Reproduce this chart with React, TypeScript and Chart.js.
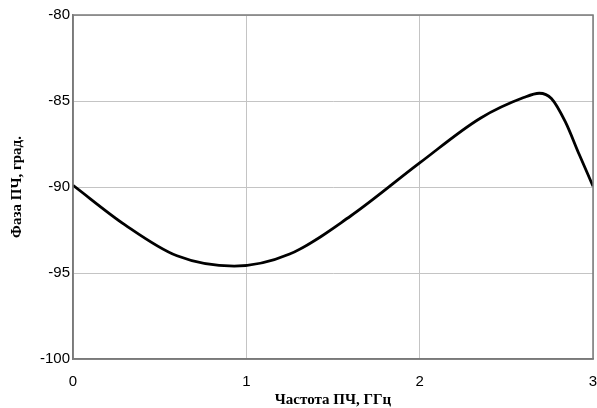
import React, { useEffect, useRef } from "react";
import { Chart, registerables } from "chart.js";

Chart.register(...registerables);

const freq = [0, 0.3, 0.6, 0.93, 1.25, 1.6, 2.0, 2.35, 2.6, 2.69, 2.76, 2.84, 2.92, 3.0];
const phase = [-89.9, -92.2, -94.0, -94.6, -93.9, -91.7, -88.6, -86.0, -84.8, -84.55, -84.85, -86.2, -88.1, -89.95];

const xTitle = "Частота ПЧ, ГГц";
const yTitle = "Фаза ПЧ, град.";

const frame = {
  id: "frame",
  afterDraw(chart: any) {
    const { ctx, chartArea: a } = chart;
    ctx.save();
    ctx.strokeStyle = "#7a7a7a";
    ctx.lineWidth = 1.5;
    ctx.strokeRect(a.left, a.top, a.right - a.left, a.bottom - a.top);
    ctx.restore();
  },
};

export default function App() {
  const ref = useRef<HTMLCanvasElement>(null);
  useEffect(() => {
    document.body.style.margin = "0";
    const chart = new Chart(ref.current!, {
      type: "scatter",
      data: {
        datasets: [
          {
            data: freq.map((x, i) => ({ x, y: phase[i] })),
            showLine: true,
            borderColor: "#000",
            borderWidth: 2.8,
            pointRadius: 0,
            cubicInterpolationMode: "monotone",
          },
        ],
      },
      options: {
        animation: false,
        responsive: false,
        layout: { padding: { top: 15, right: 4, left: 0, bottom: 0 } },
        plugins: { legend: { display: false }, tooltip: { enabled: false } },
        scales: {
          x: {
            type: "linear",
            min: 0,
            max: 3,
            ticks: { stepSize: 1, color: "#000", font: { family: "Liberation Sans", size: 15 }, padding: 14 },
            grid: { color: "#c4c4c4", drawTicks: false },
            border: { color: "#7a7a7a", width: 1.5 },
            title: {
              display: true,
              text: xTitle,
              color: "#000",
              font: { family: "Liberation Serif", size: 15, weight: "bold", lineHeight: 1 },
              padding: { top: 0, bottom: 0 },
            },
            afterFit: (s: any) => { s.height = 49; s.paddingLeft = 0; s.paddingRight = 0; },
          },
          y: {
            min: -100,
            max: -80,
            ticks: { stepSize: 5, color: "#000", font: { family: "Liberation Sans", size: 15 }, padding: 3 },
            grid: { color: "#c4c4c4", drawTicks: false },
            border: { color: "#7a7a7a", width: 1.5 },
            title: {
              display: true,
              text: yTitle,
              color: "#000",
              font: { family: "Liberation Serif", size: 15, weight: "bold", lineHeight: 1 },
              padding: { top: 10, bottom: 0 },
            },
            afterFit: (s: any) => { s.width = 73; s.paddingTop = 0; s.paddingBottom = 0; },
          },
        },
      },
      plugins: [frame],
    } as any);
    return () => chart.destroy();
  }, []);
  return (
    <div style={{ width: 597, height: 408 }}>
      <canvas ref={ref} width={597} height={408} style={{ display: "block" }} />
    </div>
  );
}
